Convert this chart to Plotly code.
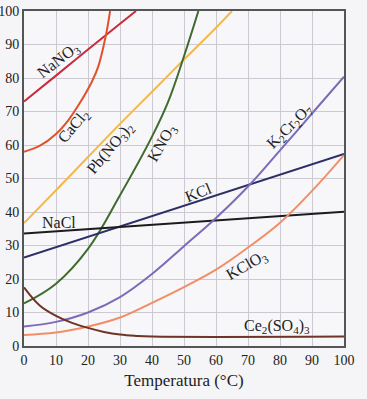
import plotly.graph_objects as go

# Temperature (°C) / solubility (g per 100 g water) readings
nano3_t = [0, 10, 20, 30, 35]
nano3_s = [73, 80.7, 88.5, 96.2, 100]

cacl2_t = [0, 5, 10, 14, 18, 21, 23.2, 25.6, 26.9]
cacl2_s = [58, 59.8, 63.3, 67.6, 73.4, 78.5, 83.4, 92.8, 100]

pbno32_t = [0, 10, 20, 30, 40, 50, 60, 65]
pbno32_s = [36.7, 46.5, 56.4, 66.3, 75.9, 85.5, 95, 100]

kno3_t = [0, 10, 20, 30, 40, 45, 50, 54.5]
kno3_s = [12.7, 18.6, 29, 45, 62.5, 72.8, 86.5, 100]

kcl_t = [0, 100]
kcl_s = [26.4, 57.3]

nacl_t = [0, 100]
nacl_s = [33.6, 40.1]

k2cr2o7_t = [0, 10, 20, 30, 40, 50, 60, 70, 80, 90, 100]
k2cr2o7_s = [5.8, 7.2, 10, 14.6, 21.5, 29.8, 38.2, 47.6, 58.4, 69.4, 80.4]

kclo3_t = [0, 10, 20, 30, 40, 50, 60, 70, 80, 90, 100]
kclo3_s = [3.3, 4.0, 5.8, 8.5, 12.9, 17.6, 22.8, 29.4, 36.8, 46.3, 57]

ce2so43_t = [0, 5, 10, 15, 20, 25, 30, 35, 40, 100]
ce2so43_s = [17.5, 12, 9, 6.9, 5.4, 4.2, 3.4, 3.0, 2.8, 2.8]

tick_vals = [0, 10, 20, 30, 40, 50, 60, 70, 80, 90, 100]
x_title = "Temperatura (°C)"

series = [
    (nano3_t, nano3_s, "#c82a3a"),
    (cacl2_t, cacl2_s, "#e0522c"),
    (pbno32_t, pbno32_s, "#f2b84b"),
    (kno3_t, kno3_s, "#3f6b2f"),
    (kcl_t, kcl_s, "#2b2f66"),
    (nacl_t, nacl_s, "#1c1c1c"),
    (k2cr2o7_t, k2cr2o7_s, "#7d6bb8"),
    (kclo3_t, kclo3_s, "#f28e66"),
    (ce2so43_t, ce2so43_s, "#6e3425"),
]

labels = [
    ("NaNO<sub>3</sub>", 10.9, 85.1, -38),
    ("CaCl<sub>2</sub>", 15.6, 65.4, -50),
    ("Pb(NO<sub>3</sub>)<sub>2</sub>", 26.9, 59.1, -50),
    ("KNO<sub>3</sub>", 43.4, 60.6, -60),
    ("K<sub>2</sub>Cr<sub>2</sub>O<sub>7</sub>", 83.1, 65.4, -45),
    ("KCl", 54.4, 45.7, -22),
    ("NaCl", 10.9, 37.0, 0),
    ("KClO<sub>3</sub>", 69.7, 23.9, -30),
    ("Ce<sub>2</sub>(SO<sub>4</sub>)<sub>3</sub>", 79.1, 5.7, 0),
]

FONT = "Liberation Serif, Times New Roman, serif"

fig = go.Figure()
for t, s, c in series:
    fig.add_trace(go.Scatter(
        x=t, y=s, mode="lines",
        line=dict(color=c, width=2, shape="spline", smoothing=1.1),
        showlegend=False, hoverinfo="skip",
    ))

for text, x, y, ang in labels:
    fig.add_annotation(x=x, y=y, text=text, textangle=ang, showarrow=False,
                       font=dict(family=FONT, size=16, color="#222222"))

axis_common = dict(
    range=[0, 100], tickvals=tick_vals, showgrid=True,
    gridcolor="#cdc9d2", gridwidth=1, showline=True, linecolor="#555555",
    linewidth=2, mirror=True, zeroline=False, ticks="", automargin=False,
    tickfont=dict(family=FONT, size=14, color="#222222"),
)

fig.update_xaxes(**axis_common, ticklabelstandoff=0,
                 title=dict(text=x_title, standoff=7,
                            font=dict(family=FONT, size=17, color="#222222")))
fig.update_yaxes(**axis_common, ticklabelstandoff=0)

fig.update_layout(
    width=367, height=399,
    margin=dict(l=24, r=23, t=11, b=53),
    paper_bgcolor="#f5f4f7", plot_bgcolor="#f7f6f9",
)

fig.write_html(
    "out.html",
    config={"displayModeBar": False},
    post_script="document.body.style.margin='0';"
                "document.body.style.background='#f5f4f7';",
)
